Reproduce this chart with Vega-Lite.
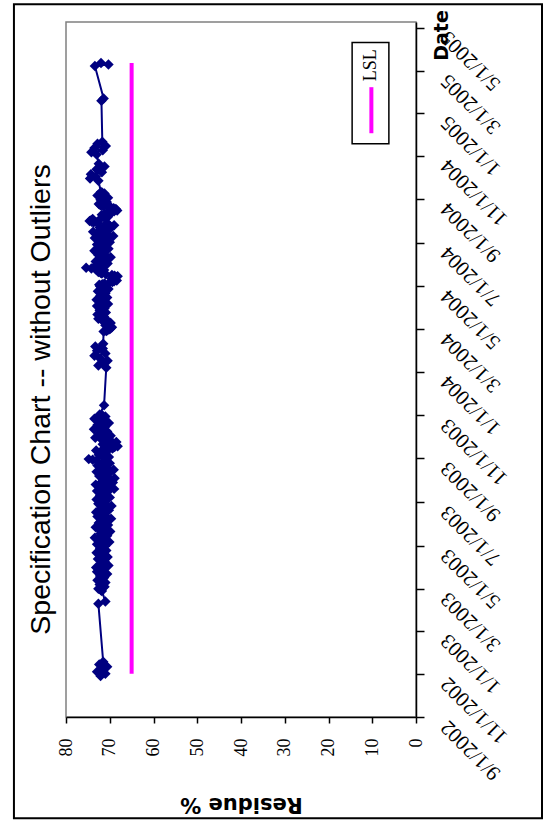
{
  "$schema": "https://vega.github.io/schema/vega-lite/v6.json",
  "autosize": {"type": "none"},
  "width": 350,
  "height": 695,
  "padding": {"left": 66, "top": 22, "right": 128, "bottom": 104},
  "background": "white",
  "title": {
    "text": "Specification Chart -- without Outliers",
    "orient": "left",
    "anchor": "middle",
    "font": "Liberation Sans",
    "fontSize": 28.5,
    "fontWeight": "normal",
    "color": "black",
    "baseline": "bottom",
    "offset": -72,
    "dx": -30
  },
  "config": {
    "view": {"stroke": "#808080", "strokeWidth": 1.5},
    "axis": {"labelColor": "black", "tickColor": "black", "domainColor": "black", "titleColor": "black", "grid": false}
  },
  "datasets": {
    "residue": [
      {"Date": "2002-10-29", "Residue": 72.1}, {"Date": "2002-11-01", "Residue": 71.0}, {"Date": "2002-11-04", "Residue": 72.9},
      {"Date": "2002-11-07", "Residue": 71.6}, {"Date": "2002-11-11", "Residue": 70.6}, {"Date": "2002-11-14", "Residue": 72.4},
      {"Date": "2002-11-18", "Residue": 71.5}, {"Date": "2003-02-08", "Residue": 72.6}, {"Date": "2003-02-11", "Residue": 71.0},
      {"Date": "2003-02-26", "Residue": 71.8}, {"Date": "2003-02-28", "Residue": 72.1},
      {"Date": "2003-03-01", "Residue": 72.6}, {"Date": "2003-03-02", "Residue": 71.7},
      {"Date": "2003-03-04", "Residue": 71.2}, {"Date": "2003-03-06", "Residue": 72.0},
      {"Date": "2003-03-07", "Residue": 72.3}, {"Date": "2003-03-08", "Residue": 71.4},
      {"Date": "2003-03-10", "Residue": 71.0}, {"Date": "2003-03-12", "Residue": 72.0},
      {"Date": "2003-03-13", "Residue": 72.8}, {"Date": "2003-03-14", "Residue": 72.0},
      {"Date": "2003-03-16", "Residue": 71.5}, {"Date": "2003-03-18", "Residue": 71.7},
      {"Date": "2003-03-19", "Residue": 72.2}, {"Date": "2003-03-20", "Residue": 71.3},
      {"Date": "2003-03-22", "Residue": 70.6}, {"Date": "2003-03-24", "Residue": 71.8},
      {"Date": "2003-03-25", "Residue": 72.9}, {"Date": "2003-03-26", "Residue": 72.1},
      {"Date": "2003-03-28", "Residue": 71.4}, {"Date": "2003-03-30", "Residue": 72.4},
      {"Date": "2003-03-31", "Residue": 73.1}, {"Date": "2003-04-01", "Residue": 71.9},
      {"Date": "2003-04-03", "Residue": 70.3}, {"Date": "2003-04-05", "Residue": 71.0},
      {"Date": "2003-04-06", "Residue": 72.0}, {"Date": "2003-04-07", "Residue": 71.5},
      {"Date": "2003-04-09", "Residue": 71.2}, {"Date": "2003-04-11", "Residue": 72.2},
      {"Date": "2003-04-12", "Residue": 72.7}, {"Date": "2003-04-13", "Residue": 71.6},
      {"Date": "2003-04-15", "Residue": 70.5}, {"Date": "2003-04-17", "Residue": 71.2},
      {"Date": "2003-04-18", "Residue": 71.9}, {"Date": "2003-04-19", "Residue": 72.5},
      {"Date": "2003-04-21", "Residue": 73.0}, {"Date": "2003-04-23", "Residue": 71.9},
      {"Date": "2003-04-24", "Residue": 70.8}, {"Date": "2003-04-25", "Residue": 71.5},
      {"Date": "2003-04-27", "Residue": 72.2}, {"Date": "2003-04-29", "Residue": 71.7},
      {"Date": "2003-04-30", "Residue": 71.1}, {"Date": "2003-05-01", "Residue": 72.0},
      {"Date": "2003-05-03", "Residue": 72.9}, {"Date": "2003-05-05", "Residue": 71.4},
      {"Date": "2003-05-06", "Residue": 70.1}, {"Date": "2003-05-07", "Residue": 70.9},
      {"Date": "2003-05-09", "Residue": 71.6}, {"Date": "2003-05-11", "Residue": 72.5},
      {"Date": "2003-05-12", "Residue": 73.4}, {"Date": "2003-05-13", "Residue": 72.2},
      {"Date": "2003-05-15", "Residue": 70.6}, {"Date": "2003-05-17", "Residue": 71.3},
      {"Date": "2003-05-18", "Residue": 72.1}, {"Date": "2003-05-19", "Residue": 71.0},
      {"Date": "2003-05-21", "Residue": 69.9}, {"Date": "2003-05-23", "Residue": 70.8},
      {"Date": "2003-05-24", "Residue": 71.8}, {"Date": "2003-05-25", "Residue": 72.6},
      {"Date": "2003-05-27", "Residue": 73.2}, {"Date": "2003-05-29", "Residue": 71.8},
      {"Date": "2003-05-30", "Residue": 70.4}, {"Date": "2003-05-31", "Residue": 71.3},
      {"Date": "2003-06-02", "Residue": 72.5}, {"Date": "2003-06-04", "Residue": 71.9},
      {"Date": "2003-06-05", "Residue": 71.0}, {"Date": "2003-06-06", "Residue": 70.4},
      {"Date": "2003-06-08", "Residue": 69.7}, {"Date": "2003-06-10", "Residue": 71.2},
      {"Date": "2003-06-11", "Residue": 72.8}, {"Date": "2003-06-12", "Residue": 72.0},
      {"Date": "2003-06-14", "Residue": 71.3}, {"Date": "2003-06-16", "Residue": 72.2},
      {"Date": "2003-06-17", "Residue": 73.1}, {"Date": "2003-06-18", "Residue": 71.8},
      {"Date": "2003-06-20", "Residue": 70.2}, {"Date": "2003-06-22", "Residue": 70.9},
      {"Date": "2003-06-23", "Residue": 71.7}, {"Date": "2003-06-24", "Residue": 70.6},
      {"Date": "2003-06-26", "Residue": 69.6}, {"Date": "2003-06-28", "Residue": 71.0},
      {"Date": "2003-06-29", "Residue": 72.6}, {"Date": "2003-06-30", "Residue": 71.9},
      {"Date": "2003-07-02", "Residue": 71.1}, {"Date": "2003-07-04", "Residue": 72.1},
      {"Date": "2003-07-05", "Residue": 73.0}, {"Date": "2003-07-06", "Residue": 71.6},
      {"Date": "2003-07-08", "Residue": 70.0}, {"Date": "2003-07-10", "Residue": 71.1},
      {"Date": "2003-07-11", "Residue": 72.2}, {"Date": "2003-07-12", "Residue": 71.4},
      {"Date": "2003-07-14", "Residue": 70.8}, {"Date": "2003-07-16", "Residue": 71.9},
      {"Date": "2003-07-17", "Residue": 72.9}, {"Date": "2003-07-18", "Residue": 70.9},
      {"Date": "2003-07-20", "Residue": 69.0}, {"Date": "2003-07-22", "Residue": 70.5},
      {"Date": "2003-07-23", "Residue": 71.9}, {"Date": "2003-07-24", "Residue": 72.6},
      {"Date": "2003-07-26", "Residue": 73.2}, {"Date": "2003-07-28", "Residue": 71.2},
      {"Date": "2003-07-29", "Residue": 69.3}, {"Date": "2003-07-30", "Residue": 70.4},
      {"Date": "2003-08-01", "Residue": 71.5}, {"Date": "2003-08-03", "Residue": 70.1},
      {"Date": "2003-08-04", "Residue": 68.9}, {"Date": "2003-08-05", "Residue": 70.6},
      {"Date": "2003-08-07", "Residue": 72.4}, {"Date": "2003-08-09", "Residue": 71.2},
      {"Date": "2003-08-10", "Residue": 70.3}, {"Date": "2003-08-11", "Residue": 71.9},
      {"Date": "2003-08-13", "Residue": 73.0}, {"Date": "2003-08-15", "Residue": 70.8},
      {"Date": "2003-08-16", "Residue": 69.1}, {"Date": "2003-08-17", "Residue": 70.3},
      {"Date": "2003-08-19", "Residue": 71.8}, {"Date": "2003-08-21", "Residue": 72.3},
      {"Date": "2003-08-22", "Residue": 72.8}, {"Date": "2003-08-23", "Residue": 71.4},
      {"Date": "2003-08-25", "Residue": 70.0}, {"Date": "2003-08-27", "Residue": 70.7},
      {"Date": "2003-08-28", "Residue": 71.2}, {"Date": "2003-08-29", "Residue": 73.0},
      {"Date": "2003-08-31", "Residue": 74.8}, {"Date": "2003-09-01", "Residue": 71.0},
      {"Date": "2003-09-03", "Residue": 70.2}, {"Date": "2003-09-05", "Residue": 71.6},
      {"Date": "2003-09-06", "Residue": 72.5}, {"Date": "2003-09-07", "Residue": 71.4},
      {"Date": "2003-09-09", "Residue": 70.9}, {"Date": "2003-09-11", "Residue": 72.0},
      {"Date": "2003-09-12", "Residue": 73.1}, {"Date": "2003-09-13", "Residue": 71.2},
      {"Date": "2003-09-15", "Residue": 69.4}, {"Date": "2003-09-17", "Residue": 68.9},
      {"Date": "2003-09-18", "Residue": 68.2}, {"Date": "2003-09-19", "Residue": 69.8},
      {"Date": "2003-09-21", "Residue": 71.6}, {"Date": "2003-09-23", "Residue": 70.0},
      {"Date": "2003-09-24", "Residue": 68.5}, {"Date": "2003-09-25", "Residue": 69.6},
      {"Date": "2003-09-27", "Residue": 70.7}, {"Date": "2003-09-29", "Residue": 72.1},
      {"Date": "2003-09-30", "Residue": 73.3}, {"Date": "2003-10-01", "Residue": 71.5},
      {"Date": "2003-10-03", "Residue": 69.8}, {"Date": "2003-10-05", "Residue": 71.1},
      {"Date": "2003-10-06", "Residue": 72.4}, {"Date": "2003-10-07", "Residue": 71.5},
      {"Date": "2003-10-09", "Residue": 70.6}, {"Date": "2003-10-11", "Residue": 72.0},
      {"Date": "2003-10-12", "Residue": 73.6}, {"Date": "2003-10-13", "Residue": 72.4},
      {"Date": "2003-10-15", "Residue": 71.2}, {"Date": "2003-10-17", "Residue": 72.0},
      {"Date": "2003-10-18", "Residue": 72.8}, {"Date": "2003-10-19", "Residue": 71.5},
      {"Date": "2003-10-21", "Residue": 70.2}, {"Date": "2003-10-23", "Residue": 71.0},
      {"Date": "2003-10-24", "Residue": 71.9}, {"Date": "2003-10-25", "Residue": 72.7},
      {"Date": "2003-10-27", "Residue": 73.5}, {"Date": "2003-10-29", "Residue": 72.0},
      {"Date": "2003-10-30", "Residue": 71.0}, {"Date": "2003-10-31", "Residue": 71.8},
      {"Date": "2003-11-02", "Residue": 72.3},
      {"Date": "2003-02-27", "Residue": 72.0}, {"Date": "2003-03-03", "Residue": 71.5}, {"Date": "2003-03-05", "Residue": 71.9},
      {"Date": "2003-03-09", "Residue": 71.6}, {"Date": "2003-03-11", "Residue": 71.4}, {"Date": "2003-03-15", "Residue": 72.1},
      {"Date": "2003-03-17", "Residue": 71.3}, {"Date": "2003-03-21", "Residue": 71.5}, {"Date": "2003-03-23", "Residue": 71.2},
      {"Date": "2003-03-27", "Residue": 71.8}, {"Date": "2003-03-29", "Residue": 72.6}, {"Date": "2003-04-02", "Residue": 71.0},
      {"Date": "2003-04-04", "Residue": 71.6}, {"Date": "2003-04-08", "Residue": 71.8}, {"Date": "2003-04-10", "Residue": 71.5},
      {"Date": "2003-04-14", "Residue": 71.2}, {"Date": "2003-04-16", "Residue": 71.8}, {"Date": "2003-04-20", "Residue": 72.3},
      {"Date": "2003-04-22", "Residue": 72.4}, {"Date": "2003-04-26", "Residue": 71.4}, {"Date": "2003-04-28", "Residue": 71.9},
      {"Date": "2003-05-02", "Residue": 72.5}, {"Date": "2003-05-04", "Residue": 72.1}, {"Date": "2003-05-08", "Residue": 71.2},
      {"Date": "2003-05-10", "Residue": 72.0}, {"Date": "2003-05-14", "Residue": 71.6}, {"Date": "2003-05-16", "Residue": 71.8},
      {"Date": "2003-05-20", "Residue": 70.6}, {"Date": "2003-05-22", "Residue": 70.4}, {"Date": "2003-05-26", "Residue": 72.4},
      {"Date": "2003-05-28", "Residue": 72.5}, {"Date": "2003-06-01", "Residue": 71.6}, {"Date": "2003-06-03", "Residue": 72.2},
      {"Date": "2003-06-07", "Residue": 70.7}, {"Date": "2003-06-09", "Residue": 70.5}, {"Date": "2003-06-13", "Residue": 71.7},
      {"Date": "2003-06-15", "Residue": 71.8}, {"Date": "2003-06-19", "Residue": 72.4}, {"Date": "2003-06-21", "Residue": 70.6},
      {"Date": "2003-06-25", "Residue": 70.3}, {"Date": "2003-06-27", "Residue": 70.8}, {"Date": "2003-07-01", "Residue": 71.5},
      {"Date": "2003-07-03", "Residue": 72.5}, {"Date": "2003-07-07", "Residue": 71.0}, {"Date": "2003-07-09", "Residue": 70.6},
      {"Date": "2003-07-13", "Residue": 71.1}, {"Date": "2003-07-15", "Residue": 71.3}, {"Date": "2003-07-19", "Residue": 70.0},
      {"Date": "2003-07-21", "Residue": 69.8}, {"Date": "2003-07-25", "Residue": 72.4}, {"Date": "2003-07-27", "Residue": 72.3},
      {"Date": "2003-07-31", "Residue": 70.9}, {"Date": "2003-08-02", "Residue": 71.0}, {"Date": "2003-08-06", "Residue": 71.5},
      {"Date": "2003-08-08", "Residue": 71.8}, {"Date": "2003-08-12", "Residue": 72.4}, {"Date": "2003-08-14", "Residue": 71.9},
      {"Date": "2003-08-18", "Residue": 70.7}, {"Date": "2003-08-20", "Residue": 72.0}, {"Date": "2003-08-24", "Residue": 71.3},
      {"Date": "2003-08-26", "Residue": 70.4}, {"Date": "2003-08-30", "Residue": 73.9}, {"Date": "2003-09-02", "Residue": 70.5},
      {"Date": "2003-09-04", "Residue": 70.9}, {"Date": "2003-09-08", "Residue": 71.6}, {"Date": "2003-09-10", "Residue": 71.4},
      {"Date": "2003-09-14", "Residue": 70.3}, {"Date": "2003-09-16", "Residue": 69.3}, {"Date": "2003-09-20", "Residue": 70.6},
      {"Date": "2003-09-22", "Residue": 70.8}, {"Date": "2003-09-26", "Residue": 70.1}, {"Date": "2003-09-28", "Residue": 71.4},
      {"Date": "2003-10-02", "Residue": 70.7}, {"Date": "2003-10-04", "Residue": 70.4}, {"Date": "2003-10-08", "Residue": 71.0},
      {"Date": "2003-10-10", "Residue": 71.2}, {"Date": "2003-10-14", "Residue": 71.8}, {"Date": "2003-10-16", "Residue": 71.6},
      {"Date": "2003-10-20", "Residue": 70.8}, {"Date": "2003-10-22", "Residue": 70.6}, {"Date": "2003-10-26", "Residue": 72.6},
      {"Date": "2003-10-28", "Residue": 72.8}, {"Date": "2003-11-01", "Residue": 71.7},
      {"Date": "2003-11-15", "Residue": 71.3}, {"Date": "2004-01-07", "Residue": 70.8}, {"Date": "2004-01-10", "Residue": 72.6},
      {"Date": "2004-01-13", "Residue": 71.4}, {"Date": "2004-01-17", "Residue": 70.5}, {"Date": "2004-01-20", "Residue": 72.2},
      {"Date": "2004-01-24", "Residue": 73.5}, {"Date": "2004-01-27", "Residue": 71.0}, {"Date": "2004-01-31", "Residue": 72.9},
      {"Date": "2004-02-03", "Residue": 71.6}, {"Date": "2004-02-06", "Residue": 73.3}, {"Date": "2004-02-10", "Residue": 71.5},
      {"Date": "2004-02-27", "Residue": 71.4}, {"Date": "2004-02-28", "Residue": 70.8},
      {"Date": "2004-03-01", "Residue": 70.2}, {"Date": "2004-03-02", "Residue": 69.9},
      {"Date": "2004-03-04", "Residue": 69.5}, {"Date": "2004-03-06", "Residue": 70.4},
      {"Date": "2004-03-07", "Residue": 71.0}, {"Date": "2004-03-08", "Residue": 70.2},
      {"Date": "2004-03-10", "Residue": 69.8}, {"Date": "2004-03-12", "Residue": 70.3},
      {"Date": "2004-03-13", "Residue": 70.7}, {"Date": "2004-03-14", "Residue": 71.6},
      {"Date": "2004-03-16", "Residue": 72.6}, {"Date": "2004-03-18", "Residue": 71.9},
      {"Date": "2004-03-19", "Residue": 71.3}, {"Date": "2004-03-20", "Residue": 72.0},
      {"Date": "2004-03-22", "Residue": 72.8}, {"Date": "2004-03-24", "Residue": 71.7},
      {"Date": "2004-03-25", "Residue": 70.9}, {"Date": "2004-03-26", "Residue": 71.6},
      {"Date": "2004-03-28", "Residue": 72.3}, {"Date": "2004-03-30", "Residue": 71.5},
      {"Date": "2004-03-31", "Residue": 71.2}, {"Date": "2004-04-01", "Residue": 72.1},
      {"Date": "2004-04-03", "Residue": 72.9}, {"Date": "2004-04-05", "Residue": 71.3},
      {"Date": "2004-04-06", "Residue": 70.4}, {"Date": "2004-04-07", "Residue": 71.1},
      {"Date": "2004-04-09", "Residue": 71.8}, {"Date": "2004-04-11", "Residue": 72.4},
      {"Date": "2004-04-12", "Residue": 73.0}, {"Date": "2004-04-13", "Residue": 71.8},
      {"Date": "2004-04-15", "Residue": 70.6}, {"Date": "2004-04-17", "Residue": 71.4},
      {"Date": "2004-04-18", "Residue": 72.1}, {"Date": "2004-04-19", "Residue": 71.5},
      {"Date": "2004-04-21", "Residue": 71.0}, {"Date": "2004-04-23", "Residue": 72.0},
      {"Date": "2004-04-24", "Residue": 72.7}, {"Date": "2004-04-25", "Residue": 71.7},
      {"Date": "2004-04-27", "Residue": 70.3}, {"Date": "2004-04-29", "Residue": 71.0},
      {"Date": "2004-04-30", "Residue": 71.6}, {"Date": "2004-05-01", "Residue": 72.2},
      {"Date": "2004-05-03", "Residue": 72.4}, {"Date": "2004-05-05", "Residue": 71.2},
      {"Date": "2004-05-06", "Residue": 70.1}, {"Date": "2004-05-07", "Residue": 69.4},
      {"Date": "2004-05-09", "Residue": 68.4}, {"Date": "2004-05-11", "Residue": 69.0},
      {"Date": "2004-05-12", "Residue": 69.6}, {"Date": "2004-05-13", "Residue": 68.9},
      {"Date": "2004-05-15", "Residue": 68.2}, {"Date": "2004-05-17", "Residue": 69.5},
      {"Date": "2004-05-18", "Residue": 70.9}, {"Date": "2004-05-19", "Residue": 71.8},
      {"Date": "2004-05-21", "Residue": 72.6}, {"Date": "2004-05-23", "Residue": 71.9},
      {"Date": "2004-05-24", "Residue": 71.3}, {"Date": "2004-05-25", "Residue": 73.2},
      {"Date": "2004-05-27", "Residue": 75.4}, {"Date": "2004-05-28", "Residue": 73.6},
      {"Date": "2004-05-30", "Residue": 72.1}, {"Date": "2004-05-31", "Residue": 71.2},
      {"Date": "2004-06-02", "Residue": 70.5}, {"Date": "2004-06-04", "Residue": 71.9},
      {"Date": "2004-06-05", "Residue": 73.2}, {"Date": "2004-06-06", "Residue": 72.3},
      {"Date": "2004-06-08", "Residue": 71.0}, {"Date": "2004-06-10", "Residue": 70.4},
      {"Date": "2004-06-11", "Residue": 69.8}, {"Date": "2004-06-12", "Residue": 71.1},
      {"Date": "2004-06-14", "Residue": 72.6}, {"Date": "2004-06-16", "Residue": 72.0},
      {"Date": "2004-06-17", "Residue": 71.4}, {"Date": "2004-06-18", "Residue": 72.4},
      {"Date": "2004-06-20", "Residue": 73.5}, {"Date": "2004-06-22", "Residue": 71.8},
      {"Date": "2004-06-23", "Residue": 70.3}, {"Date": "2004-06-24", "Residue": 71.0},
      {"Date": "2004-06-26", "Residue": 71.9}, {"Date": "2004-06-28", "Residue": 72.3},
      {"Date": "2004-06-29", "Residue": 72.9}, {"Date": "2004-06-30", "Residue": 71.4},
      {"Date": "2004-07-02", "Residue": 70.0}, {"Date": "2004-07-04", "Residue": 70.9},
      {"Date": "2004-07-05", "Residue": 71.7}, {"Date": "2004-07-06", "Residue": 72.6},
      {"Date": "2004-07-08", "Residue": 73.4}, {"Date": "2004-07-10", "Residue": 71.0},
      {"Date": "2004-07-11", "Residue": 69.2}, {"Date": "2004-07-12", "Residue": 70.3},
      {"Date": "2004-07-14", "Residue": 71.5}, {"Date": "2004-07-16", "Residue": 72.7},
      {"Date": "2004-07-17", "Residue": 73.8}, {"Date": "2004-07-18", "Residue": 72.2},
      {"Date": "2004-07-20", "Residue": 70.1}, {"Date": "2004-07-22", "Residue": 71.4},
      {"Date": "2004-07-23", "Residue": 72.3}, {"Date": "2004-07-24", "Residue": 70.8},
      {"Date": "2004-07-26", "Residue": 69.0}, {"Date": "2004-07-28", "Residue": 70.9},
      {"Date": "2004-07-29", "Residue": 72.8}, {"Date": "2004-07-30", "Residue": 73.7},
      {"Date": "2004-08-01", "Residue": 74.6}, {"Date": "2004-08-03", "Residue": 74.0},
      {"Date": "2004-08-04", "Residue": 73.9}, {"Date": "2004-08-05", "Residue": 72.0},
      {"Date": "2004-08-07", "Residue": 70.4}, {"Date": "2004-08-09", "Residue": 71.1},
      {"Date": "2004-08-10", "Residue": 71.8}, {"Date": "2004-08-11", "Residue": 71.0},
      {"Date": "2004-08-13", "Residue": 70.0}, {"Date": "2004-08-15", "Residue": 69.0},
      {"Date": "2004-08-16", "Residue": 68.3}, {"Date": "2004-08-17", "Residue": 68.8},
      {"Date": "2004-08-19", "Residue": 69.1}, {"Date": "2004-08-21", "Residue": 70.3},
      {"Date": "2004-08-22", "Residue": 71.4}, {"Date": "2004-08-23", "Residue": 72.0},
      {"Date": "2004-08-25", "Residue": 72.5}, {"Date": "2004-08-27", "Residue": 71.6},
      {"Date": "2004-08-28", "Residue": 70.7}, {"Date": "2004-08-29", "Residue": 71.3},
      {"Date": "2004-08-31", "Residue": 72.1}, {"Date": "2004-09-01", "Residue": 71.4},
      {"Date": "2004-09-03", "Residue": 70.4}, {"Date": "2004-09-05", "Residue": 71.5},
      {"Date": "2004-09-06", "Residue": 72.8}, {"Date": "2004-09-07", "Residue": 71.9},
      {"Date": "2004-09-09", "Residue": 71.2}, {"Date": "2004-09-10", "Residue": 71.7},
      {"Date": "2004-09-11", "Residue": 72.0},
      {"Date": "2004-02-29", "Residue": 70.6}, {"Date": "2004-03-03", "Residue": 69.8}, {"Date": "2004-03-05", "Residue": 70.1},
      {"Date": "2004-03-09", "Residue": 70.5}, {"Date": "2004-03-11", "Residue": 70.0}, {"Date": "2004-03-15", "Residue": 71.9},
      {"Date": "2004-03-17", "Residue": 72.2}, {"Date": "2004-03-21", "Residue": 71.6}, {"Date": "2004-03-23", "Residue": 72.1},
      {"Date": "2004-03-27", "Residue": 71.8}, {"Date": "2004-03-29", "Residue": 71.9}, {"Date": "2004-04-02", "Residue": 72.4},
      {"Date": "2004-04-04", "Residue": 72.0}, {"Date": "2004-04-08", "Residue": 71.4}, {"Date": "2004-04-10", "Residue": 72.0},
      {"Date": "2004-04-14", "Residue": 71.3}, {"Date": "2004-04-16", "Residue": 71.0}, {"Date": "2004-04-20", "Residue": 71.3},
      {"Date": "2004-04-22", "Residue": 71.6}, {"Date": "2004-04-26", "Residue": 71.2}, {"Date": "2004-04-28", "Residue": 70.7},
      {"Date": "2004-05-02", "Residue": 72.0}, {"Date": "2004-05-04", "Residue": 71.7}, {"Date": "2004-05-08", "Residue": 69.0},
      {"Date": "2004-05-10", "Residue": 68.8}, {"Date": "2004-05-14", "Residue": 68.6}, {"Date": "2004-05-16", "Residue": 68.9},
      {"Date": "2004-05-20", "Residue": 72.1}, {"Date": "2004-05-22", "Residue": 72.2}, {"Date": "2004-05-26", "Residue": 74.2},
      {"Date": "2004-05-29", "Residue": 72.8}, {"Date": "2004-06-01", "Residue": 70.9}, {"Date": "2004-06-03", "Residue": 71.3},
      {"Date": "2004-06-07", "Residue": 71.6}, {"Date": "2004-06-09", "Residue": 70.6}, {"Date": "2004-06-13", "Residue": 71.8},
      {"Date": "2004-06-15", "Residue": 72.2}, {"Date": "2004-06-19", "Residue": 72.9}, {"Date": "2004-06-21", "Residue": 72.6},
      {"Date": "2004-06-25", "Residue": 71.4}, {"Date": "2004-06-27", "Residue": 72.1}, {"Date": "2004-07-01", "Residue": 70.7},
      {"Date": "2004-07-03", "Residue": 70.5}, {"Date": "2004-07-07", "Residue": 72.9}, {"Date": "2004-07-09", "Residue": 72.2},
      {"Date": "2004-07-13", "Residue": 70.9}, {"Date": "2004-07-15", "Residue": 72.0}, {"Date": "2004-07-19", "Residue": 71.2},
      {"Date": "2004-07-21", "Residue": 70.7}, {"Date": "2004-07-25", "Residue": 70.0}, {"Date": "2004-07-27", "Residue": 70.2},
      {"Date": "2004-07-31", "Residue": 74.1}, {"Date": "2004-08-02", "Residue": 74.3}, {"Date": "2004-08-06", "Residue": 71.2},
      {"Date": "2004-08-08", "Residue": 70.8}, {"Date": "2004-08-12", "Residue": 70.5}, {"Date": "2004-08-14", "Residue": 69.4},
      {"Date": "2004-08-18", "Residue": 68.6}, {"Date": "2004-08-20", "Residue": 69.7}, {"Date": "2004-08-24", "Residue": 72.2},
      {"Date": "2004-08-26", "Residue": 72.0}, {"Date": "2004-08-30", "Residue": 71.7}, {"Date": "2004-09-02", "Residue": 70.9},
      {"Date": "2004-09-04", "Residue": 71.0}, {"Date": "2004-09-08", "Residue": 72.1},
      {"Date": "2004-09-27", "Residue": 72.6}, {"Date": "2004-09-30", "Residue": 74.5},
      {"Date": "2004-10-03", "Residue": 73.2}, {"Date": "2004-10-06", "Residue": 74.3}, {"Date": "2004-10-09", "Residue": 71.8},
      {"Date": "2004-10-13", "Residue": 73.0}, {"Date": "2004-10-17", "Residue": 71.2}, {"Date": "2004-10-21", "Residue": 72.5},
      {"Date": "2004-11-03", "Residue": 73.0}, {"Date": "2004-11-06", "Residue": 74.2}, {"Date": "2004-11-09", "Residue": 71.6},
      {"Date": "2004-11-12", "Residue": 73.5}, {"Date": "2004-11-15", "Residue": 70.9}, {"Date": "2004-11-18", "Residue": 72.8},
      {"Date": "2004-11-21", "Residue": 71.7}, {"Date": "2005-01-18", "Residue": 71.9}, {"Date": "2005-01-21", "Residue": 71.4},
      {"Date": "2005-03-08", "Residue": 73.4}, {"Date": "2005-03-10", "Residue": 70.3}, {"Date": "2005-03-12", "Residue": 72.0}
    ],
    "lsl": [
      {"Date": "2002-11-01", "Residue": 65, "Series": "LSL"},
      {"Date": "2005-03-12", "Residue": 65, "Series": "LSL"}
    ]
  },
  "layer": [
    {
      "data": {"values": [{}]},
      "mark": {"type": "rect", "filled": false, "stroke": "black", "strokeWidth": 2, "clip": false},
      "encoding": {
        "x": {"datum": 91.9, "type": "quantitative", "title": "Residue %", "scale": {"domain": [0, 80], "reverse": true, "nice": false, "zero": false}},
        "x2": {"datum": -28.8},
        "y": {"datum": {"year": 2005, "month": 6, "date": 3, "utc": true}, "type": "temporal", "title": "Date",
              "scale": {"type": "utc", "domain": [{"year": 2002, "month": 9, "date": 1, "utc": true}, {"year": 2005, "month": 5, "date": 9, "utc": true}], "nice": false}},
        "y2": {"datum": {"year": 2002, "month": 4, "date": 11, "utc": true}}
      }
    },
    {
      "data": {"name": "lsl"},
      "mark": {"type": "line", "strokeWidth": 4, "strokeCap": "butt", "color": "#FF00FF"},
      "encoding": {
        "x": {"field": "Residue", "type": "quantitative", "title": "Residue %", "scale": {"domain": [0, 80], "reverse": true, "nice": false, "zero": false}},
        "y": {"field": "Date", "type": "temporal", "title": "Date",
              "scale": {"type": "utc", "domain": [{"year": 2002, "month": 9, "date": 1, "utc": true}, {"year": 2005, "month": 5, "date": 9, "utc": true}], "nice": false}}
      }
    },
    {
      "data": {"values": [{}]},
      "mark": {"type": "rect", "fill": "white", "stroke": "black", "strokeWidth": 1.5},
      "encoding": {
        "x": {"datum": 14.6, "type": "quantitative", "title": "Residue %"},
        "x2": {"datum": 6.2},
        "y": {"datum": {"year": 2005, "month": 4, "date": 10, "utc": true}, "type": "temporal", "title": "Date"},
        "y2": {"datum": {"year": 2004, "month": 11, "date": 18, "utc": true}}
      }
    },
    {
      "data": {"values": [{}]},
      "mark": {"type": "rule", "color": "#FF00FF", "strokeWidth": 4, "strokeCap": "butt"},
      "encoding": {
        "x": {"datum": 10.2, "type": "quantitative", "title": "Residue %"},
        "y": {"datum": {"year": 2005, "month": 2, "date": 6, "utc": true}, "type": "temporal", "title": "Date"},
        "y2": {"datum": {"year": 2004, "month": 12, "date": 3, "utc": true}}
      }
    },
    {
      "data": {"values": [{}]},
      "mark": {"type": "text", "text": "LSL", "angle": 270, "align": "center", "baseline": "middle", "font": "Liberation Serif", "fontSize": 18, "color": "black"},
      "encoding": {
        "x": {"datum": 10.4, "type": "quantitative", "title": "Residue %"},
        "y": {"datum": {"year": 2005, "month": 3, "date": 9, "utc": true}, "type": "temporal", "title": "Date"}
      }
    },
    {
      "data": {"name": "residue"},
      "mark": {"type": "line", "color": "#000080", "strokeWidth": 2,
               "point": {"shape": "diamond", "filled": true, "size": 110, "color": "#000080"}},
      "encoding": {
        "x": {
          "field": "Residue", "type": "quantitative", "title": "Residue %",
          "scale": {"domain": [0, 80], "reverse": true, "nice": false, "zero": false},
          "axis": {
            "orient": "bottom", "values": [0, 10, 20, 30, 40, 50, 60, 70, 80],
            "labelAngle": 270, "labelAlign": "right", "labelBaseline": "middle", "labelPadding": 15,
            "labelFont": "Liberation Serif", "labelFontSize": 18, "labelFlush": false, "labelOverlap": false,
            "tickSize": 6, "tickWidth": 1.5, "domainWidth": 1.5,
            "titleFont": "DejaVu Sans", "titleFontWeight": "bold", "titleFontSize": 21,
            "titleAngle": 180, "titleAlign": "center", "titleBaseline": "middle", "titleX": 175, "titleY": 86
          }
        },
        "y": {
          "field": "Date", "type": "temporal", "title": "Date",
          "scale": {"type": "utc", "domain": [{"year": 2002, "month": 9, "date": 1, "utc": true}, {"year": 2005, "month": 5, "date": 9, "utc": true}], "nice": false},
          "axis": {
            "orient": "right",
            "values": [
              {"year": 2002, "month": 9, "date": 1, "utc": true}, {"year": 2002, "month": 11, "date": 1, "utc": true},
              {"year": 2003, "month": 1, "date": 1, "utc": true}, {"year": 2003, "month": 3, "date": 1, "utc": true},
              {"year": 2003, "month": 5, "date": 1, "utc": true}, {"year": 2003, "month": 7, "date": 1, "utc": true},
              {"year": 2003, "month": 9, "date": 1, "utc": true}, {"year": 2003, "month": 11, "date": 1, "utc": true},
              {"year": 2004, "month": 1, "date": 1, "utc": true}, {"year": 2004, "month": 3, "date": 1, "utc": true},
              {"year": 2004, "month": 5, "date": 1, "utc": true}, {"year": 2004, "month": 7, "date": 1, "utc": true},
              {"year": 2004, "month": 9, "date": 1, "utc": true}, {"year": 2004, "month": 11, "date": 1, "utc": true},
              {"year": 2005, "month": 1, "date": 1, "utc": true}, {"year": 2005, "month": 3, "date": 1, "utc": true},
              {"year": 2005, "month": 5, "date": 1, "utc": true}
            ],
            "labelExpr": "utcFormat(datum.value, '%-m/%-d/%Y')",
            "labelAngle": 225, "labelAlign": "right", "labelBaseline": "middle", "labelPadding": 20, "labelOffset": 6,
            "labelFont": "Liberation Serif", "labelFontSize": 21, "labelFlush": false, "labelOverlap": false,
            "tickSize": 8, "tickWidth": 1.5, "domainWidth": 1.5,
            "titleFont": "DejaVu Sans", "titleFontWeight": "bold", "titleFontSize": 19,
            "titleAngle": 270, "titleAlign": "center", "titleBaseline": "middle", "titleX": 25, "titleY": 13
          }
        },
        "order": {"field": "Date", "type": "temporal"}
      }
    }
  ]
}
